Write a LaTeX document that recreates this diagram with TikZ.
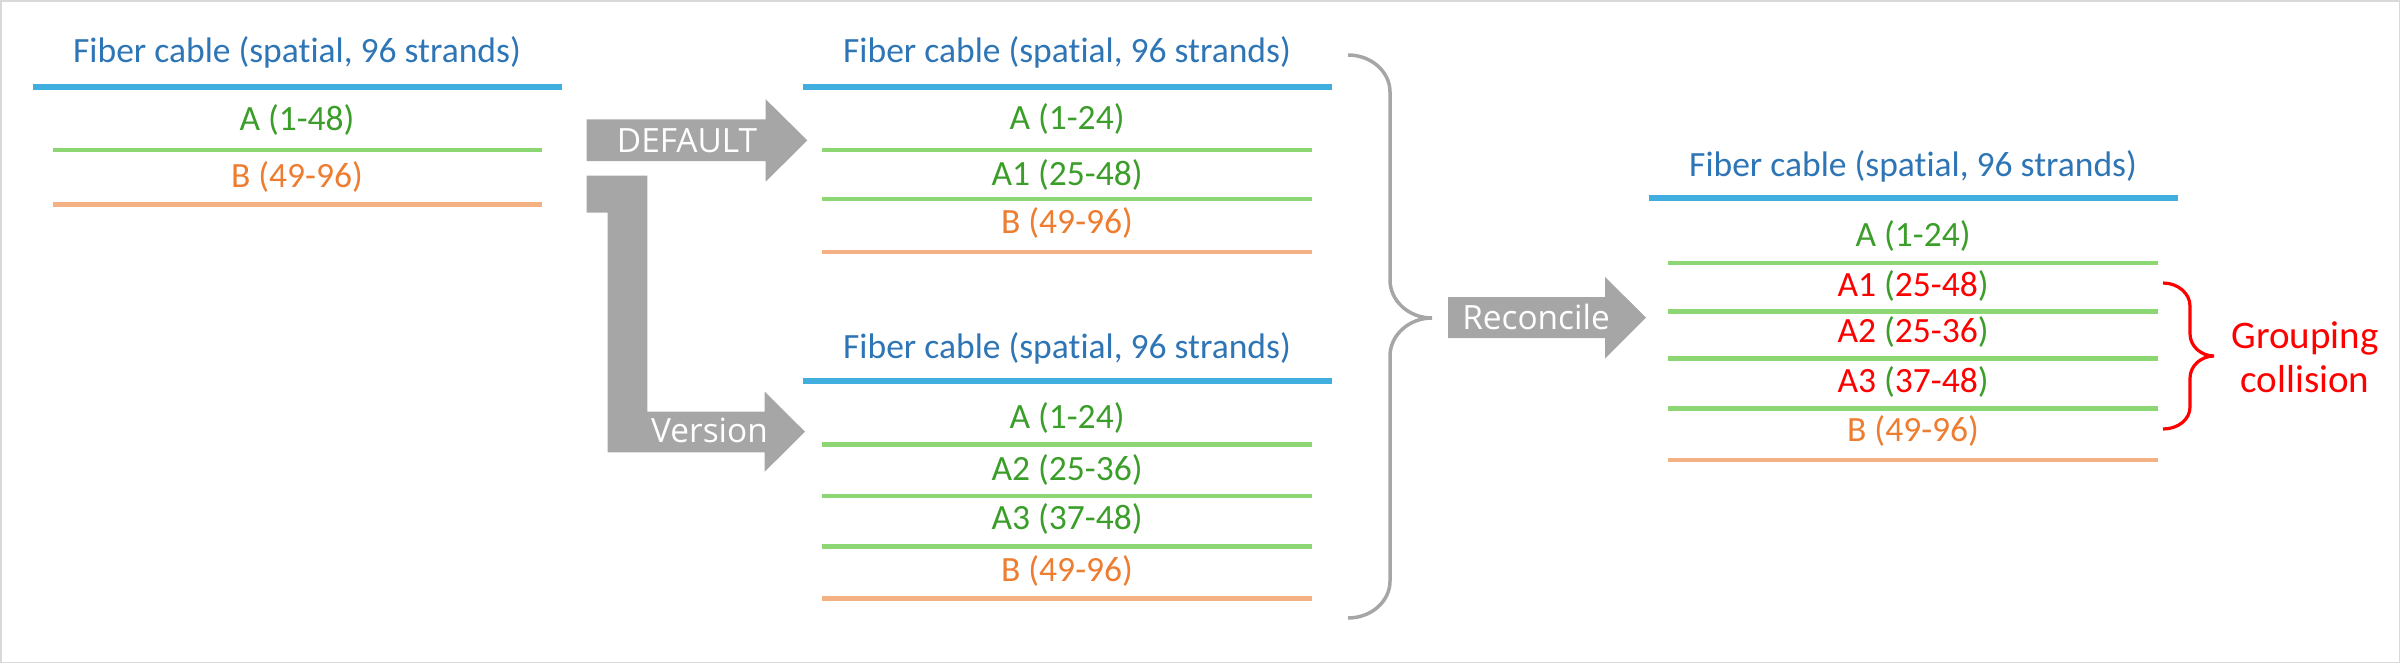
\documentclass[tikz,border=0pt]{standalone}
\usepackage{fontspec}
\setmainfont{Carlito}[Ligatures=NoCommon]
\newfontfamily\arrowfont{Open Sans}
\definecolor{titleblue}{HTML}{2E75B6}
\definecolor{lineblue}{HTML}{41AEE0}
\definecolor{tgreen}{HTML}{3C9E2A}
\definecolor{lgreen}{HTML}{8CD674}
\definecolor{torange}{HTML}{ED7D31}
\definecolor{lorange}{HTML}{F4B183}
\definecolor{agray}{HTML}{A6A6A6}
\definecolor{bgray}{HTML}{D9D9D9}
\definecolor{cred}{HTML}{FF0000}
\tikzset{
  rowtxt/.style={inner sep=0pt, anchor=base, font=\fontsize{10.1pt}{12pt}\selectfont},
  titletxt/.style={rowtxt, text=titleblue},
  greenrow/.style={rowtxt, text=tgreen},
  orangerow/.style={rowtxt, text=torange},
  blueline/.style={draw=lineblue, line width=0.06cm},
  greenline/.style={draw=lgreen, line width=0.045cm},
  orangeline/.style={draw=lorange, line width=0.045cm},
  blockarrow/.style={fill=agray, draw=none},
  arrowtext/.style={inner sep=0pt, anchor=base, text=white, font=\arrowfont\fontsize{9.5pt}{11pt}\selectfont},
  bracegray/.style={draw=agray, line width=0.035cm},
  bracered/.style={draw=cred, line width=0.032cm},
  notetxt/.style={inner sep=0pt, anchor=base, text=cred, font=\fontsize{11.1pt}{13pt}\selectfont}
}
\newcommand{\redtx}[1]{\textcolor{cred}{#1}}
\newcommand{\grntx}[1]{\textcolor{tgreen}{#1}}
\begin{document}
\begin{tikzpicture}[x=0.01cm, y=-0.01cm]
\useasboundingbox (0,0) rectangle (2400,663);
\draw[bgray, line width=0.015cm] (0.75,0.75) rectangle (2399.25,662.25);

% ---------- left panel ----------
\node[titletxt] (t1) at (297,62.2) {Fiber cable (spatial, 96 strands)};
\draw[blueline] (32.5,86.7) coordinate (b1l) -- (561.5,86.7) coordinate (b1r);
\node[greenrow] (l1a) at (297,130.2) {A (1-48)};
\draw[greenline] (52.5,150.1) coordinate (g1l) -- (541.8,150.1) coordinate (g1r);
\node[orangerow] (l1b) at (297,187.3) {B (49-96)};
\draw[orangeline] (52.5,204.7) coordinate (o1l) -- (541.8,204.7) coordinate (o1r);

% ---------- arrows ----------
\fill[blockarrow] (586.7,119.3) -- (765.7,119.3) -- (765.7,99.3) -- (807.3,140.3)
  -- (765.7,181.7) -- (765.7,161) -- (586.7,161) -- cycle;
\node[arrowtext] (dflt) at (687,152) {DEFAULT};

\fill[blockarrow] (586.7,175.7) -- (647.3,175.7) -- (647.3,411.7) -- (764.7,411.7)
  -- (764.7,391.7) -- (805,431.7) -- (764.7,471.7) -- (764.7,452.3)
  -- (607.7,452.3) -- (607.7,212.7) -- (586.7,212.7) -- cycle;
\node[arrowtext] (vers) at (709.5,442.7) {Version};

% ---------- middle top panel ----------
\node[titletxt] (t2) at (1067,62.2) {Fiber cable (spatial, 96 strands)};
\draw[blueline] (802.5,86.7) -- (1331.5,86.7);
\node[greenrow] (m1a) at (1067,129.8) {A (1-24)};
\draw[greenline] (822.2,150.1) -- (1311.8,150.1);
\node[greenrow] (m1a1) at (1067,185.2) {A1 (25-48)};
\draw[greenline] (822.2,199.2) -- (1311.8,199.2);
\node[orangerow] (m1b) at (1067,233.8) {B (49-96)};
\draw[orangeline] (822.2,252) -- (1311.8,252);

% ---------- middle bottom panel ----------
\node[titletxt] (t3) at (1067,358.6) {Fiber cable (spatial, 96 strands)};
\draw[blueline] (802.5,381.4) -- (1331.5,381.4);
\node[greenrow] (m2a) at (1067,428.3) {A (1-24)};
\draw[greenline] (822.2,444.4) -- (1311.8,444.4);
\node[greenrow] (m2a2) at (1067,480) {A2 (25-36)};
\draw[greenline] (822.2,496) -- (1311.8,496);
\node[greenrow] (m2a3) at (1067,529.8) {A3 (37-48)};
\draw[greenline] (822.2,546.7) -- (1311.8,546.7);
\node[orangerow] (m2b) at (1067,581.4) {B (49-96)};
\draw[orangeline] (822.2,598.3) -- (1311.8,598.3);

% ---------- gray brace ----------
\draw[bracegray] (1348,55) .. controls (1371.2,55) and (1390,71.6) .. (1390,92)
  -- (1390,280) .. controls (1390,301) and (1409,318) .. (1432,318)
  .. controls (1409,318) and (1390,335) .. (1390,356)
  -- (1390,581) .. controls (1390,601.4) and (1371.2,618) .. (1348,618);

% ---------- reconcile arrow ----------
\fill[blockarrow] (1448,297) -- (1605,297) -- (1605,277) -- (1646,317.5)
  -- (1605,358.6) -- (1605,338) -- (1448,338) -- cycle;
\node[arrowtext] (reco) at (1536,329) {Reconcile};

% ---------- right panel ----------
\node[titletxt] (t4) at (1913,176.7) {Fiber cable (spatial, 96 strands)};
\draw[blueline] (1648.5,197.5) -- (2177.5,197.5);
\node[greenrow] (ra) at (1913,246.5) {A (1-24)};
\draw[greenline] (1668.2,263) -- (2157.8,263);
\node[rowtxt] (ra1) at (1913,296) {\redtx{A1} \grntx{(}\redtx{25-48}\grntx{)}};
\draw[greenline] (1668.2,311.6) -- (2157.8,311.6);
\node[rowtxt] (ra2) at (1913,342.5) {\redtx{A2} \grntx{(}\redtx{25-36}\grntx{)}};
\draw[greenline] (1668.2,358.6) -- (2157.8,358.6);
\node[rowtxt] (ra3) at (1913,392.4) {\redtx{A3} \grntx{(}\redtx{37-48}\grntx{)}};
\draw[greenline] (1668.2,408.5) -- (2157.8,408.5);
\node[orangerow] (rb) at (1913,441.9) {B (49-96)};
\draw[orangeline] (1668.2,460) -- (2157.8,460);

% ---------- red brace ----------
\draw[bracered] (2163,283) .. controls (2178,283) and (2190,293.5) .. (2190,306)
  -- (2190,334) .. controls (2190,346) and (2201,356) .. (2214,356)
  .. controls (2201,356) and (2190,366) .. (2190,378)
  -- (2190,407) .. controls (2190,419.5) and (2178,429) .. (2163,429);
\node[notetxt] (grp) at (2305,348) {Grouping};
\node[notetxt] (col) at (2305,392) {collision};
\end{tikzpicture}
\end{document}
